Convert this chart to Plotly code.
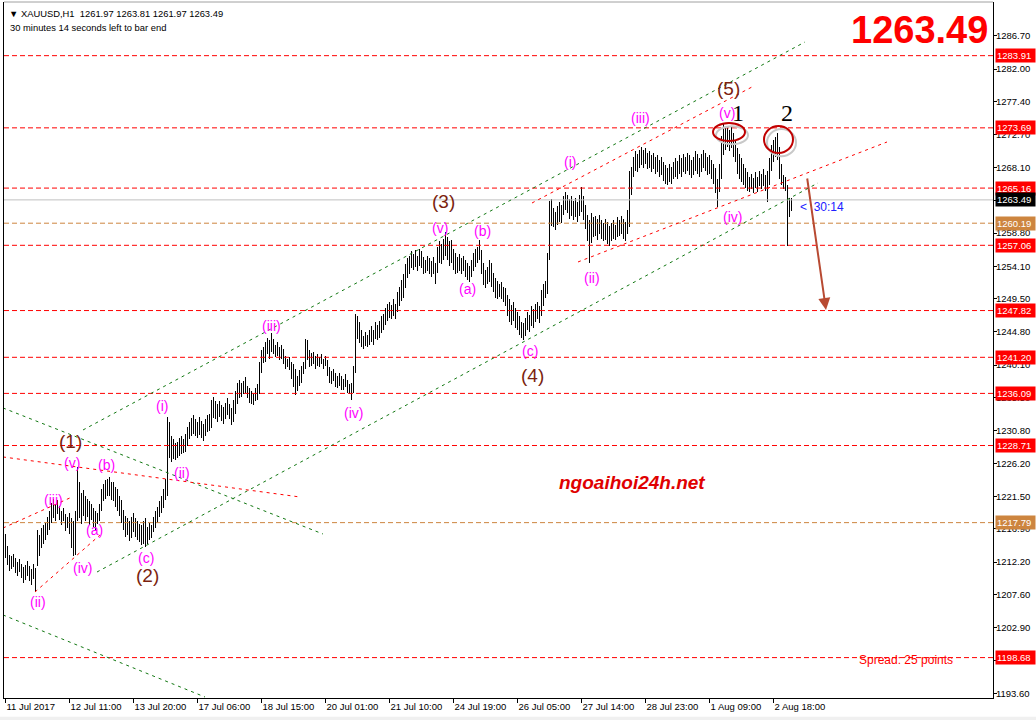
import plotly.graph_objects as go

################################################################################
# XAUUSD H1 bars (high / low per bar)
bar_high = [
    1216.2, 1214.5, 1213.2, 1213.0, 1213.4, 1212.8, 1212.2, 1212.6, 1212.0, 1211.5,
    1211.8, 1212.3, 1211.6, 1211.2, 1212.0, 1211.4, 1216.8, 1216.0, 1217.0, 1217.5,
    1217.8, 1218.6, 1219.5, 1220.6, 1221.2, 1220.4, 1221.0, 1220.2, 1219.5, 1219.8,
    1219.0, 1218.6, 1219.2, 1218.4, 1218.0, 1219.5, 1225.6, 1223.5, 1222.0, 1222.4,
    1221.5, 1221.2, 1220.8, 1220.5, 1219.8, 1219.5, 1219.2, 1220.5, 1222.5, 1223.2,
    1223.8, 1224.0, 1224.2, 1223.5, 1223.6, 1222.8, 1222.5, 1221.6, 1221.0, 1219.6,
    1218.8, 1218.5, 1218.0, 1218.6, 1219.2, 1218.4, 1218.0, 1217.6, 1217.4, 1218.0,
    1218.5, 1217.2, 1217.8, 1217.5, 1218.6, 1219.5, 1220.0, 1220.8, 1221.5, 1222.5,
    1224.0, 1232.8, 1232.0, 1230.0, 1229.6, 1229.0, 1229.2, 1229.8, 1230.0, 1229.6,
    1230.4, 1231.4, 1232.0, 1232.6, 1233.0, 1232.4, 1232.0, 1232.8, 1232.2, 1231.8,
    1232.4, 1233.0, 1233.2, 1235.2, 1235.6, 1235.0, 1234.6, 1235.0, 1234.4, 1234.2,
    1234.8, 1235.4, 1234.6, 1234.0, 1235.2, 1236.4, 1237.6, 1238.0, 1237.6, 1237.8,
    1238.4, 1237.2, 1236.8, 1236.4, 1236.0, 1236.8, 1237.4, 1240.6, 1242.2, 1242.6,
    1243.4, 1244.0, 1243.6, 1244.6, 1243.8, 1243.0, 1243.4, 1242.6, 1243.0, 1242.4,
    1241.4, 1241.0, 1241.2, 1240.6, 1240.2, 1239.6, 1238.6, 1239.4, 1240.0, 1240.6,
    1243.8, 1243.6, 1242.2, 1241.8, 1242.0, 1241.4, 1241.6, 1241.2, 1241.6, 1241.0,
    1241.4, 1240.8, 1239.8, 1239.2, 1239.6, 1239.0, 1238.6, 1239.0, 1238.6, 1238.2,
    1238.8, 1238.0, 1237.4, 1237.6, 1240.0, 1247.4, 1247.0, 1246.2, 1245.0, 1244.2,
    1244.8, 1244.4, 1245.0, 1245.6, 1245.0, 1246.2, 1245.8, 1246.4, 1247.0, 1247.4,
    1248.2, 1248.8, 1249.0, 1248.6, 1249.4, 1248.8, 1250.4, 1251.2, 1252.2, 1253.0,
    1254.4, 1255.2, 1255.6, 1256.2, 1255.8, 1256.4, 1255.6, 1256.6, 1256.2, 1255.4,
    1255.0, 1255.6, 1255.2, 1254.8, 1255.4, 1254.6, 1256.8, 1257.6, 1257.2, 1258.0,
    1258.9, 1258.2, 1257.6, 1257.8, 1256.6, 1256.0, 1255.4, 1255.8, 1255.2, 1255.6,
    1255.0, 1254.6, 1254.2, 1255.0, 1256.0, 1256.6, 1256.8, 1257.8, 1256.4, 1254.6,
    1253.6, 1254.0, 1255.0, 1254.6, 1253.2, 1252.4, 1252.0, 1251.6, 1251.8, 1251.2,
    1251.0, 1250.0, 1249.4, 1248.6, 1249.0, 1248.2, 1247.6, 1247.0, 1246.2, 1246.0,
    1246.8, 1247.6, 1247.2, 1248.4, 1248.0, 1248.8, 1249.0, 1248.4, 1250.8, 1251.6,
    1252.0, 1256.0, 1263.4, 1263.6, 1262.4, 1261.8, 1262.6, 1263.2, 1262.8, 1264.0,
    1264.6, 1264.2, 1263.6, 1264.0, 1263.4, 1263.8, 1263.2, 1264.2, 1265.3, 1264.0,
    1262.8, 1261.4, 1260.6, 1261.6, 1261.0, 1261.2, 1260.8, 1261.4, 1260.6, 1260.2,
    1260.8, 1260.4, 1259.8, 1260.2, 1260.6, 1260.0, 1261.0, 1260.6, 1261.2, 1260.8,
    1260.4, 1262.0, 1267.6, 1268.2, 1269.6, 1270.4, 1270.0, 1270.6, 1271.0, 1270.6,
    1270.8, 1270.2, 1270.4, 1269.8, 1270.2, 1269.6, 1269.8, 1269.2, 1269.6, 1268.8,
    1268.4, 1268.0, 1268.6, 1268.2, 1268.8, 1269.4, 1269.0, 1269.8, 1269.4, 1270.0,
    1269.6, 1270.2, 1269.8, 1269.2, 1269.6, 1270.4, 1270.0, 1269.4, 1270.0, 1270.6,
    1270.2, 1269.6, 1269.8, 1269.2, 1268.6, 1268.0, 1266.4, 1268.6, 1272.6, 1274.3,
    1273.8, 1274.0, 1273.4, 1273.8, 1273.0, 1272.0, 1270.8, 1270.0, 1269.4, 1268.6,
    1268.0, 1267.4, 1266.8, 1267.2, 1266.6, 1267.4, 1266.8, 1267.6, 1267.2, 1267.8,
    1267.0, 1267.6, 1269.4, 1271.2, 1272.0, 1272.4, 1272.9, 1271.0, 1268.6, 1267.0,
    1266.8, 1265.6, 1263.8, 1263.81,
]
bar_low = [
    1212.8, 1211.8, 1211.0, 1211.2, 1211.5, 1210.6, 1210.2, 1210.8, 1209.9, 1209.2,
    1209.6, 1210.2, 1209.5, 1209.0, 1209.8, 1208.0, 1211.6, 1213.0, 1214.2, 1214.8,
    1215.3, 1216.0, 1216.8, 1217.8, 1218.5, 1218.0, 1219.0, 1218.2, 1217.4, 1218.0,
    1216.6, 1217.0, 1216.2, 1214.2, 1213.0, 1213.2, 1218.0, 1218.5, 1217.6, 1218.8,
    1218.0, 1218.6, 1217.5, 1218.2, 1217.2, 1216.8, 1217.6, 1218.0, 1219.5, 1220.8,
    1221.2, 1221.5, 1221.6, 1221.0, 1220.8, 1220.0, 1219.5, 1218.8, 1217.8, 1216.8,
    1215.8, 1216.0, 1215.2, 1215.6, 1216.4, 1215.8, 1215.4, 1215.0, 1214.6, 1214.8,
    1214.4, 1214.8, 1215.4, 1215.6, 1216.5, 1217.0, 1217.8, 1218.6, 1219.2, 1219.8,
    1221.0, 1221.5, 1227.0, 1226.4, 1226.8, 1226.6, 1227.0, 1227.2, 1227.5, 1227.6,
    1227.8, 1228.6, 1229.6, 1230.0, 1230.4, 1230.0, 1229.8, 1230.2, 1229.8, 1229.4,
    1230.0, 1230.6, 1230.8, 1231.2, 1232.6, 1232.4, 1232.0, 1232.8, 1232.2, 1231.8,
    1232.4, 1233.0, 1232.4, 1231.6, 1232.0, 1233.2, 1234.6, 1235.4, 1235.6, 1236.0,
    1236.2, 1235.4, 1234.8, 1234.6, 1234.4, 1235.0, 1235.2, 1236.0, 1239.0, 1240.4,
    1240.6, 1241.6, 1241.0, 1242.0, 1241.6, 1241.2, 1241.4, 1240.8, 1241.0, 1240.2,
    1239.6, 1239.8, 1239.4, 1238.2, 1237.0, 1235.8, 1236.4, 1237.2, 1237.6, 1238.8,
    1239.6, 1240.8, 1239.8, 1240.0, 1240.2, 1239.6, 1240.0, 1239.8, 1240.2, 1239.6,
    1240.0, 1238.6, 1237.6, 1237.4, 1237.8, 1237.0, 1236.8, 1237.2, 1236.6, 1236.6,
    1237.0, 1236.2, 1236.0, 1235.1, 1236.2, 1239.0, 1243.8, 1243.2, 1242.6, 1242.4,
    1242.8, 1242.6, 1243.0, 1243.4, 1243.0, 1243.8, 1243.6, 1244.0, 1244.6, 1245.0,
    1245.8, 1246.4, 1246.8, 1246.6, 1247.0, 1246.6, 1247.6, 1248.4, 1249.2, 1249.6,
    1251.0, 1252.4, 1253.0, 1253.8, 1253.6, 1254.0, 1253.4, 1254.2, 1253.8, 1253.0,
    1253.2, 1253.4, 1253.0, 1252.6, 1253.0, 1251.6, 1253.2, 1254.6, 1254.4, 1255.0,
    1255.6, 1255.0, 1254.2, 1254.6, 1253.6, 1253.0, 1253.2, 1253.4, 1253.0, 1253.4,
    1252.6, 1252.2, 1251.8, 1252.6, 1253.4, 1254.0, 1254.6, 1255.0, 1253.0, 1251.4,
    1251.0, 1251.6, 1251.8, 1251.2, 1250.4, 1249.6, 1249.4, 1249.8, 1249.4, 1249.0,
    1248.4, 1247.0, 1246.2, 1245.8, 1246.4, 1245.4, 1245.0, 1244.4, 1244.0, 1243.6,
    1244.2, 1245.0, 1244.8, 1245.6, 1245.4, 1246.2, 1246.6, 1246.0, 1247.0, 1248.4,
    1249.6, 1250.2, 1255.0, 1259.8, 1259.6, 1259.2, 1260.0, 1260.4, 1260.2, 1261.4,
    1262.0, 1261.6, 1260.8, 1261.2, 1260.6, 1261.0, 1260.4, 1261.2, 1261.8, 1260.6,
    1259.4, 1257.6, 1254.6, 1257.4, 1258.2, 1258.4, 1257.8, 1258.6, 1258.0, 1257.6,
    1257.8, 1257.2, 1257.0, 1257.6, 1258.0, 1257.8, 1258.2, 1258.4, 1258.6, 1258.0,
    1257.6, 1258.6, 1259.6, 1264.2, 1266.8, 1267.6, 1267.4, 1268.0, 1268.4, 1268.0,
    1268.6, 1267.8, 1268.0, 1267.4, 1267.8, 1267.2, 1267.4, 1266.8, 1267.0, 1266.2,
    1265.8, 1265.6, 1266.0, 1265.8, 1266.4, 1266.8, 1266.4, 1267.2, 1266.8, 1267.4,
    1267.2, 1267.6, 1267.0, 1266.6, 1267.0, 1267.6, 1267.2, 1266.8, 1267.4, 1268.0,
    1267.6, 1267.0, 1267.2, 1266.4, 1265.8, 1264.4, 1262.5, 1264.6, 1266.4, 1269.8,
    1270.6, 1271.0, 1270.4, 1270.8, 1269.6, 1268.8, 1267.2, 1266.4, 1266.0, 1265.6,
    1265.2, 1264.8, 1264.6, 1265.0, 1264.4, 1265.2, 1264.6, 1265.4, 1265.0, 1265.4,
    1264.8, 1263.2, 1265.6, 1267.6, 1268.8, 1269.6, 1269.2, 1266.4, 1265.6, 1265.0,
    1264.8, 1256.9, 1261.0, 1261.97,
]

# time axis labels (every 32 bars)
tick_pos = [0, 32, 64, 96, 128, 160, 192, 224, 256, 288, 320, 352, 384]
tick_labels = ['11 Jul 2017', '12 Jul 11:00', '13 Jul 20:00', '17 Jul 06:00',
               '18 Jul 15:00', '20 Jul 01:00', '21 Jul 10:00', '24 Jul 19:00',
               '26 Jul 05:00', '27 Jul 14:00', '28 Jul 23:00', '1 Aug 09:00',
               '2 Aug 18:00']

price_ticks = [1286.70, 1282.00, 1277.40, 1272.70, 1268.10, 1263.40, 1258.80,
               1254.10, 1249.50, 1244.80, 1240.10, 1235.50, 1230.80, 1226.20,
               1221.50, 1216.90, 1212.20, 1207.60, 1202.90, 1198.30, 1193.60]

# horizontal support / resistance levels
red_levels = [1283.91, 1273.69, 1265.16, 1257.06, 1247.82, 1241.20, 1236.09,
              1228.71, 1198.68]
orange_levels = [1260.19, 1217.79]
bid_price = 1263.49

# trend lines as ((bar, price), (bar, price))
green_lines = [((38.75, 1230.91), (399.75, 1285.85)),
               ((45.75, 1210.80), (406.25, 1265.89)),
               ((-1.25, 1234.03), (158.75, 1216.18)),
               ((-1.25, 1204.72), (99.75, 1193.10))]
red_lines = [((-1.25, 1227.09), (147.25, 1221.42)),
             ((-1.25, 1217.03), (33.25, 1221.42)),
             ((14.75, 1207.97), (47.25, 1216.04)),
             ((263.25, 1263.05), (373.25, 1279.48)),
             ((286.25, 1254.70), (440.75, 1271.69))]
arrow_line = ((400.75, 1266.73), (410.25, 1247.90))

# circled tops 1 and 2: (bar0, bar1, price0, price1)
circles = [(353.75, 369.75, 1271.83, 1274.38),
           (379.25, 393.75, 1270.13, 1273.96)]

# wave counts
major_waves = [('(1)', 32.25, 1229.21), ('(2)', 70.75, 1210.24),
               ('(3)', 218.75, 1263.20), ('(4)', 263.25, 1238.56),
               ('(5)', 361.25, 1279.20)]
minor_waves = [('(ii)', 16.25, 1206.56), ('(iii)', 23.75, 1221.00),
               ('(iv)', 38.25, 1211.37), ('(v)', 33.25, 1226.24),
               ('(a)', 44.25, 1216.75), ('(b)', 50.25, 1225.96),
               ('(c)', 70.25, 1212.79), ('(i)', 78.25, 1234.31),
               ('(ii)', 88.25, 1224.82), ('(iii)', 132.75, 1245.64),
               ('(iv)', 173.75, 1233.32), ('(v)', 217.25, 1259.51),
               ('(a)', 230.75, 1250.88), ('(b)', 238.25, 1259.09),
               ('(c)', 262.25, 1242.10), ('(i)', 282.25, 1268.86),
               ('(ii)', 293.25, 1252.43), ('(iii)', 317.25, 1275.09),
               ('(iv)', 363.25, 1261.07), ('(v)', 360.75, 1275.80)]
top_marks = [('1', 366.25, 1275.80), ('2', 390.75, 1275.80)]
################################################################################

MT4_FONT = 'Liberation Sans, Arial'
RED = '#ff0000'
ORANGE = '#cd853f'
GREEN = '#127812'

n_bars = len(bar_high)
fig = go.Figure(
    go.Bar(
        x=list(range(n_bars)),
        base=bar_low,
        y=[h - l for h, l in zip(bar_high, bar_low)],
        width=0.5,
        marker_color='rgba(0,0,0,0.99)',  # <1 opacity -> plotly rounds to whole px
        marker_line_width=0,
        hoverinfo='skip',
    )
)

shapes = []
# level lines
for lvl in red_levels:
    shapes.append(dict(type='line', xref='paper', x0=0, x1=1, yref='y', y0=lvl, y1=lvl,
                       line=dict(color=RED, width=1, dash='5px,3px')))
for lvl in orange_levels:
    shapes.append(dict(type='line', xref='paper', x0=0, x1=1, yref='y', y0=lvl, y1=lvl,
                       line=dict(color=ORANGE, width=1, dash='5px,3px')))
shapes.append(dict(type='line', xref='paper', x0=0, x1=1, yref='y', y0=bid_price, y1=bid_price,
                   line=dict(color='#c0c0c0', width=1)))
# trend lines
for (a, b) in green_lines:
    shapes.append(dict(type='line', x0=a[0], y0=a[1], x1=b[0], y1=b[1],
                       line=dict(color=GREEN, width=1, dash='3px,4px')))
for (a, b) in red_lines:
    shapes.append(dict(type='line', x0=a[0], y0=a[1], x1=b[0], y1=b[1],
                       line=dict(color=RED, width=1, dash='3px,4px')))
# circles with a soft shadow
for (b0, b1, p0, p1) in circles:
    shapes.append(dict(type='circle', x0=b0 + 1.5, x1=b1 + 1.5, y0=p0 - 0.45, y1=p1 - 0.45,
                       line=dict(color='#c8c8c8', width=2)))
    shapes.append(dict(type='circle', x0=b0, x1=b1, y0=p0, y1=p1,
                       line=dict(color='#c00000', width=2)))
# window frame bits
shapes.append(dict(type='line', xref='paper', yref='paper', x0=0, x1=1, y0=1, y1=1,
                   line=dict(color='#a0a0a0', width=1)))
shapes.append(dict(type='rect', xref='paper', yref='paper', x0=-0.01, x1=1.05,
                   y0=-0.027, y1=-0.04, fillcolor='#f0f0f0', line_width=0, layer='below'))

annotations = []
# price boxes on the right axis
box_levels = [(lvl, RED) for lvl in red_levels] + [(lvl, ORANGE) for lvl in orange_levels] \
    + [(bid_price, 'black')]
for lvl, col in box_levels:
    annotations.append(dict(xref='paper', x=1, xanchor='left', xshift=2, yref='y', y=lvl,
                            text=f'{lvl:.2f}', showarrow=False, bgcolor=col, width=37,
                            height=11, borderpad=1, align='left',
                            font=dict(family=MT4_FONT, size=9.5, color='white')))
for txt, b, p in major_waves:
    annotations.append(dict(x=b, y=p, text=txt, showarrow=False,
                            font=dict(family='Liberation Sans, Arial', size=19, color='#7b1f0f')))
for txt, b, p in minor_waves:
    annotations.append(dict(x=b, y=p, text=txt, showarrow=False,
                            font=dict(family='Liberation Sans, Arial', size=14, color='#ff00ff')))
for txt, b, p in top_marks:
    annotations.append(dict(x=b, y=p, text=txt, showarrow=False,
                            font=dict(family='Liberation Serif, Times New Roman', size=24,
                                      color='black')))
# forecast arrow
annotations.append(dict(x=arrow_line[1][0], y=arrow_line[1][1], ax=arrow_line[0][0],
                        ay=arrow_line[0][1], axref='x', ayref='y', text='', showarrow=True,
                        arrowhead=2, arrowsize=1.2, arrowwidth=2, arrowcolor='#b84a32'))
# texts
annotations += [
    dict(xref='paper', yref='paper', x=0.003, y=0.984, xanchor='left', yanchor='middle',
         showarrow=False, text='\u25bc XAUUSD,H1  1261.97 1263.81 1261.97 1263.49',
         font=dict(family=MT4_FONT, size=9.4, color='black')),
    dict(xref='paper', yref='paper', x=0.004, y=0.964, xanchor='left', yanchor='middle',
         showarrow=False, text='30 minutes 14 seconds left to bar end',
         font=dict(family=MT4_FONT, size=9.4, color='black')),
    dict(xref='paper', yref='paper', x=0.997, y=0.9598, xanchor='right', yanchor='middle',
         showarrow=False, text='<b>1263.49</b>',
         font=dict(family='Liberation Sans, Arial', size=38, color=RED)),
    dict(xref='paper', yref='paper', x=0.635, y=0.309, xanchor='center', yanchor='middle',
         showarrow=False, text='<b><i>ngoaihoi24h.net</i></b>',
         font=dict(family='Liberation Sans, Arial', size=19, color='#e00000')),
    dict(xref='paper', yref='y', x=0.912, y=1198.68, yshift=-2, xanchor='center',
         showarrow=False, text='Spread: 25 points',
         font=dict(family='Liberation Sans, Arial', size=12, color=RED)),
    dict(x=396.25, y=bid_price, yshift=-7, xanchor='left', showarrow=False,
         text='<  30:14', font=dict(family='Liberation Sans, Arial', size=12, color='#2020ff')),
]

fig.update_layout(
    width=1036, height=720,
    margin=dict(l=4, r=43, t=2, b=22),
    plot_bgcolor='white', paper_bgcolor='white',
    showlegend=False,
    bargap=0, bargroupgap=0,
    shapes=shapes,
    annotations=annotations,
    xaxis=dict(range=[-0.75, 493.75], tickmode='array', tickvals=tick_pos, ticktext=tick_labels,
               ticks='outside', ticklen=4, tickcolor='black', ticklabelposition='outside right',
               tickangle=0, automargin=False,
               showline=True, linecolor='black', linewidth=1, showgrid=False, zeroline=False,
               tickfont=dict(family=MT4_FONT, size=9.5, color='black')),
    yaxis=dict(side='right', range=[1192.96, 1291.51], tickmode='array', tickvals=price_ticks,
               ticktext=[f'{v:.2f}' for v in price_ticks], ticks='outside', ticklen=3,
               tickcolor='black', showline=True, mirror=True, linecolor='black', linewidth=1,
               showgrid=False, zeroline=False, automargin=False, ticklabelstandoff=-3,
               tickfont=dict(family=MT4_FONT, size=9.5, color='black')),
)

# the page body has a default 8px margin; drop it so the chart sits at the window corner
fig.write_html('out.html', config={'displayModeBar': False},
               post_script="document.body.style.margin='0px';")
